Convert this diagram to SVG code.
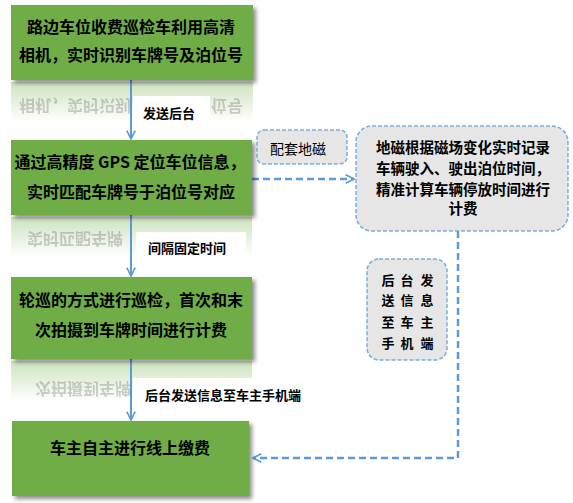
<svg xmlns="http://www.w3.org/2000/svg" width="573" height="503" viewBox="0 0 573 503">
<style>
.g{fill:#70ad47;filter:url(#sh)}
.t{font-family:"Noto Sans CJK SC","Noto Sans",sans-serif;fill:#000}
.gt{font-size:16px;font-weight:bold;text-anchor:middle}
.rt{font-size:16px;font-weight:bold;opacity:0.18}
.lb{font-size:13px;font-weight:bold}
.gray{fill:#e6e6e6;stroke:#5b9bd5;stroke-width:1.5;stroke-dasharray:4 2;stroke-opacity:0.8}
.bt{font-size:14.5px;font-weight:bold;text-anchor:middle}
.st{font-size:13px;font-weight:bold;text-anchor:middle}
.c{fill:none;stroke:#5b9bd5;stroke-width:2}
.d{fill:none;stroke:#5b9bd5;stroke-width:2.5;stroke-dasharray:7 4}
</style>
<defs>
<filter id="sh" x="-10%" y="-10%" width="125%" height="130%">
<feDropShadow dx="3" dy="3" stdDeviation="2" flood-color="#000" flood-opacity="0.45"/>
</filter>
<linearGradient id="rg" x1="0" y1="0" x2="0" y2="1">
<stop offset="0" stop-color="#70ad47" stop-opacity="0.35"/>
<stop offset="1" stop-color="#70ad47" stop-opacity="0"/>
</linearGradient>
<marker id="ah" viewBox="0 0 12 12" refX="11" refY="6" markerWidth="10" markerHeight="10" markerUnits="userSpaceOnUse" orient="auto">
<path d="M1,1 L11,6 L1,11" fill="none" stroke="#5b9bd5" stroke-width="2"/>
</marker>
</defs>
<rect width="573" height="503" fill="#fff"/>
<g id="reflections">
<rect x="11" y="82" width="242" height="40" fill="url(#rg)"/>
<text class="t rt" x="19" y="-99.5" transform="scale(1,-1)">相机，实时识别</text>
<text class="t rt" x="211" y="-99.5" transform="scale(1,-1)">位号</text>
<rect x="11" y="217" width="241" height="40" fill="url(#rg)"/>
<text class="t rt" x="27" y="-232.5" transform="scale(1,-1)">实时匹配车牌</text>
<rect x="11" y="361" width="241" height="40" fill="url(#rg)"/>
<text class="t rt" x="35" y="-382.5" transform="scale(1,-1)">次拍摄到车牌</text>
</g>
<g id="connectors">
<path class="c" d="M131,80 V139" marker-end="url(#ah)"/>
<path class="c" d="M131,215 V276" marker-end="url(#ah)"/>
<path class="c" d="M131,359 V420" marker-end="url(#ah)"/>
<path class="d" d="M252,179 H354" marker-end="url(#ah)"/>
<path class="d" d="M458,231 V458 H253" marker-end="url(#ah)"/>
<rect x="133" y="96" width="77" height="30" fill="#fff"/>
<text class="t lb" x="143" y="117.5">发送后台</text>
<rect x="136" y="232" width="110" height="26" fill="#fff"/>
<text class="t lb" x="148" y="252.5">间隔固定时间</text>
<rect x="133" y="378" width="175" height="32" fill="#fff"/>
<text class="t lb" x="145" y="399.5">后台发送信息至车主手机端</text>
</g>
<g id="n1">
<rect class="g" x="11" y="5" width="242" height="75"/>
<text class="t gt" x="131" y="32.5">路边车位收费巡检车利用高清</text>
<text class="t gt" x="131" y="60.5">相机，实时识别车牌号及泊位号</text>
</g>
<g id="n2">
<rect class="g" x="11" y="140" width="241" height="75"/>
<text class="t gt" x="130" y="167.5">通过高精度 GPS 定位车位信息，</text>
<text class="t gt" x="131" y="197.5">实时匹配车牌号于泊位号对应</text>
</g>
<g id="n3">
<rect class="g" x="11" y="277" width="241" height="82"/>
<text class="t gt" x="131" y="305.5">轮巡的方式进行巡检，首次和末</text>
<text class="t gt" x="131" y="335.5">次拍摄到车牌时间进行计费</text>
</g>
<g id="n4">
<rect class="g" x="12" y="421" width="237" height="75"/>
<text class="t gt" x="130" y="453.5">车主自主进行线上缴费</text>
</g>
<g id="n5">
<rect class="gray" x="257" y="130" width="90" height="34" rx="7"/>
<text class="t" x="270" y="154" font-size="14">配套地磁</text>
</g>
<g id="n6">
<rect class="gray" x="356" y="126" width="212" height="105" rx="16"/>
<text class="t bt" x="463" y="153">地磁根据磁场变化实时记录</text>
<text class="t bt" x="463" y="174">车辆驶入、驶出泊位时间，</text>
<text class="t bt" x="463" y="195">精准计算车辆停放时间进行</text>
<text class="t bt" x="463" y="214">计费</text>
</g>
<g id="n7">
<rect class="gray" x="367" y="259" width="80" height="101" rx="12"/>
<text class="t st" y="285"><tspan x="388">后</tspan><tspan x="407">台</tspan><tspan x="427">发</tspan></text>
<text class="t st" y="305"><tspan x="388">送</tspan><tspan x="407">信</tspan><tspan x="427">息</tspan></text>
<text class="t st" y="327"><tspan x="388">至</tspan><tspan x="407">车</tspan><tspan x="427">主</tspan></text>
<text class="t st" y="348"><tspan x="388">手</tspan><tspan x="407">机</tspan><tspan x="427">端</tspan></text>
</g>
</svg>
